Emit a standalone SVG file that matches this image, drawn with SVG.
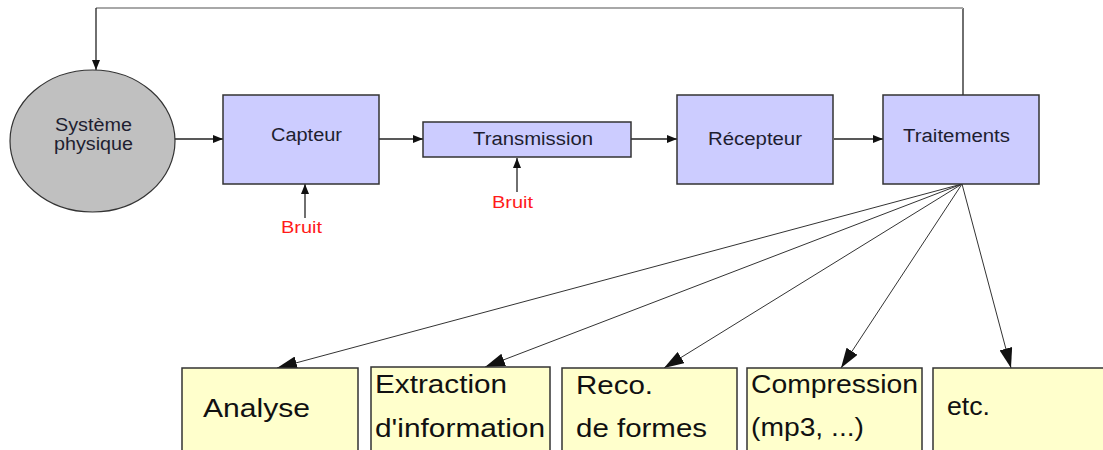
<svg xmlns="http://www.w3.org/2000/svg" width="1103" height="450" viewBox="0 0 1103 450">
<style>
.box{fill:#ccccff;stroke:#333;stroke-width:1.5}
.ybox{fill:#ffffcc;stroke:#333;stroke-width:1.5}
.ell{fill:#c0c0c0;stroke:#333;stroke-width:1.2}
.t{font-family:"Liberation Sans",Arial,sans-serif;font-size:18px;fill:#1e1e30}
.s{font-size:17.5px}
.b{font-family:"Liberation Sans",Arial,sans-serif;font-size:26px;fill:#111}
.r{font-family:"Liberation Sans",Arial,sans-serif;font-size:17px;fill:#ff1a1a}
.c{stroke:#222;stroke-width:1.3;fill:none}
.f{stroke:#333;stroke-width:1;fill:none}
.g{stroke:#a8a8a8;stroke-width:2;fill:none}
</style>
<defs>
<marker id="sa" markerUnits="userSpaceOnUse" markerWidth="10" markerHeight="8" refX="10" refY="4" orient="auto"><path d="M0,0 L10,4 L0,8 z" fill="#111"/></marker>
<marker id="ba" markerUnits="userSpaceOnUse" markerWidth="20" markerHeight="13" refX="20" refY="6.5" orient="auto"><path d="M0,0 L20,6.5 L0,13 z" fill="#111"/></marker>
</defs>
<rect width="1103" height="450" fill="#fff"/>
<g id="connectors">
<line class="c" x1="963" y1="95" x2="963" y2="8"/>
<line class="g" x1="963" y1="8" x2="96" y2="8"/>
<line class="c" x1="96" y1="8" x2="96" y2="70" marker-end="url(#sa)"/>
<line class="c" x1="175" y1="139" x2="223" y2="139" marker-end="url(#sa)"/>
<line class="c" x1="379" y1="139" x2="423" y2="139" marker-end="url(#sa)"/>
<line class="c" x1="631" y1="139" x2="677" y2="139" marker-end="url(#sa)"/>
<line class="c" x1="834" y1="139" x2="883" y2="139" marker-end="url(#sa)"/>
<line class="c" x1="305" y1="218" x2="305" y2="184" marker-end="url(#sa)"/>
<line class="c" x1="517" y1="192" x2="517" y2="158" marker-end="url(#sa)"/>
<line class="f" x1="962" y1="184" x2="277" y2="368" marker-end="url(#ba)"/>
<line class="f" x1="962" y1="184" x2="485" y2="367" marker-end="url(#ba)"/>
<line class="f" x1="962" y1="184" x2="664" y2="368" marker-end="url(#ba)"/>
<line class="f" x1="962" y1="184" x2="841" y2="368" marker-end="url(#ba)"/>
<line class="f" x1="962" y1="184" x2="1011" y2="368" marker-end="url(#ba)"/>
</g>
<g id="systeme">
<ellipse class="ell" cx="92.5" cy="141" rx="82.5" ry="71"/>
<text class="t s" x="55" y="131" textLength="77" lengthAdjust="spacingAndGlyphs">Système</text>
<text class="t s" x="54" y="150" textLength="79" lengthAdjust="spacingAndGlyphs">physique</text>
</g>
<g id="capteur">
<rect class="box" x="223" y="95" width="156" height="89"/>
<text class="t" x="271" y="141" textLength="71" lengthAdjust="spacingAndGlyphs">Capteur</text>
</g>
<g id="transmission">
<rect class="box" x="423" y="122" width="208" height="35"/>
<text class="t" x="473" y="145" textLength="120" lengthAdjust="spacingAndGlyphs">Transmission</text>
</g>
<g id="recepteur">
<rect class="box" x="677" y="95" width="156" height="89"/>
<text class="t" x="708" y="145" textLength="94" lengthAdjust="spacingAndGlyphs">Récepteur</text>
</g>
<g id="traitements">
<rect class="box" x="883" y="95" width="156" height="89"/>
<text class="t" x="903" y="142" textLength="107" lengthAdjust="spacingAndGlyphs">Traitements</text>
</g>
<g id="bruit1">
<text class="r" x="281" y="233" textLength="41" lengthAdjust="spacingAndGlyphs">Bruit</text>
</g>
<g id="bruit2">
<text class="r" x="492" y="208" textLength="41" lengthAdjust="spacingAndGlyphs">Bruit</text>
</g>
<g id="analyse">
<rect class="ybox" x="182" y="368" width="176" height="100"/>
<text class="b" x="203" y="417" textLength="107" lengthAdjust="spacingAndGlyphs">Analyse</text>
</g>
<g id="extraction">
<rect class="ybox" x="371" y="367" width="179" height="100"/>
<text class="b" x="375" y="393" textLength="132" lengthAdjust="spacingAndGlyphs">Extraction</text>
<text class="b" x="375" y="437" textLength="170" lengthAdjust="spacingAndGlyphs">d'information</text>
</g>
<g id="reco">
<rect class="ybox" x="562" y="368" width="175" height="100"/>
<text class="b" x="576" y="394" textLength="77" lengthAdjust="spacingAndGlyphs">Reco.</text>
<text class="b" x="576" y="437" textLength="131" lengthAdjust="spacingAndGlyphs">de formes</text>
</g>
<g id="compression">
<rect class="ybox" x="747" y="368" width="175" height="100"/>
<text class="b" x="751" y="393" textLength="167" lengthAdjust="spacingAndGlyphs">Compression</text>
<text class="b" x="751" y="436" textLength="113" lengthAdjust="spacingAndGlyphs">(mp3, ...)</text>
</g>
<g id="etc">
<rect class="ybox" x="933" y="368" width="190" height="100"/>
<text class="b" x="947" y="415" textLength="43" lengthAdjust="spacingAndGlyphs">etc.</text>
</g>
</svg>
